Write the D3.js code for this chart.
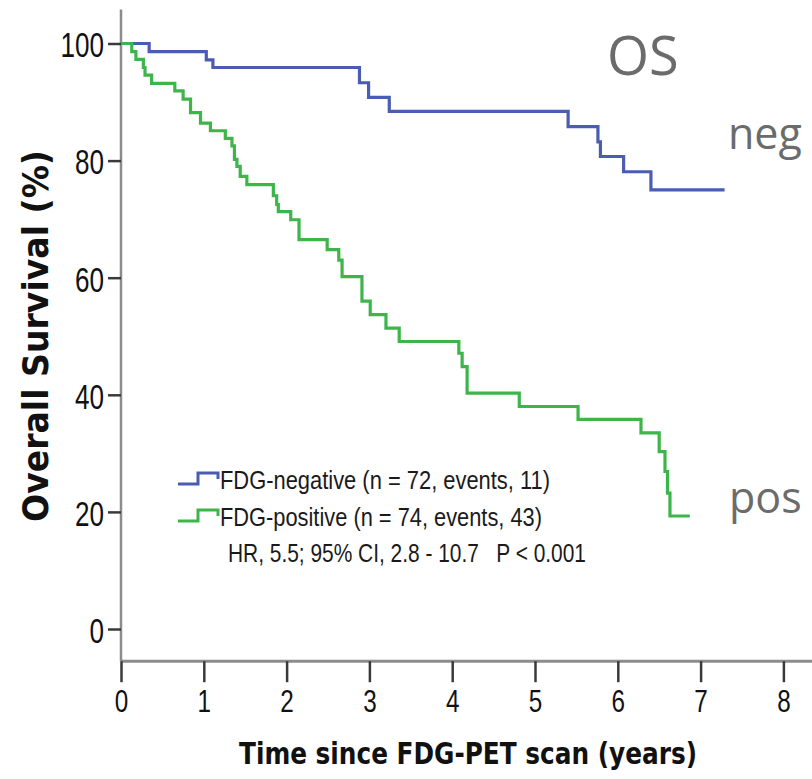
<!DOCTYPE html>
<html>
<head>
<meta charset="utf-8">
<script src="https://cdn.jsdelivr.net/npm/d3@7"></script>
<style>
  body { margin: 0; background: #fff; }
  svg { display: block; }
</style>
</head>
<body>
<script>
// FDG-negative survival steps (time in years, survival %)
const negTime = [0, 0.34, 1.03, 1.11, 2.88, 2.99, 3.24, 5.40, 5.76, 5.79, 6.07, 6.40, 7.29];
const negSurv = [100, 98.6, 97.2, 95.9, 93.3, 90.8, 88.4, 85.8, 83.2, 80.7, 78.1, 75.0, 75.0];

// FDG-positive survival steps
const posTime = [0, 0.13, 0.18, 0.27, 0.29, 0.37, 0.65, 0.75, 0.84, 0.96, 1.08, 1.26, 1.34, 1.37, 1.40, 1.44, 1.52,
                 1.84, 1.88, 1.90, 2.05, 2.15, 2.49, 2.63, 2.67, 2.91, 3.01, 3.20, 3.36, 4.08, 4.12, 4.18, 4.81,
                 5.52, 6.28, 6.50, 6.57, 6.60, 6.63, 6.87];
const posSurv = [100, 98.6, 97.3, 95.9, 94.6, 93.2, 91.9, 90.5, 88.2, 86.4, 85.1, 83.8, 82.5, 80.2, 79.0, 77.3, 75.9,
                 74.0, 72.5, 71.3, 69.9, 66.5, 64.8, 63.0, 60.2, 56.0, 53.7, 51.4, 49.1, 47.1, 44.8, 40.3, 38.0,
                 35.8, 33.5, 30.3, 26.9, 23.2, 19.3, 19.3];

const xTicks = [0, 1, 2, 3, 4, 5, 6, 7, 8];
const yTicks = [0, 20, 40, 60, 80, 100];

const legendLabels = ["FDG-negative (n = 72, events, 11)", "FDG-positive (n = 74, events, 43)"];
const statsLabel = "HR, 5.5; 95% CI, 2.8 - 10.7   P < 0.001";

const w = 812;
const h = 779;
const blue = "#4a5db2";
const green = "#3cb64b";
const narrow = "'Liberation Sans', Arial, sans-serif";

const svg = d3.select("body")
              .append("svg")
              .attr("width", w)
              .attr("height", h);

const x = d3.scaleLinear().domain([0, 8]).range([121, 783.4]);
const y = d3.scaleLinear().domain([0, 100]).range([629, 43.5]);

// axis lines
svg.append("line")
   .attr("x1", x(0)).attr("x2", x(0))
   .attr("y1", y(105.8)).attr("y2", y(-5.5))
   .attr("stroke", "#8c8c8c").attr("stroke-width", 2.5);

svg.append("line")
   .attr("x1", x(0)).attr("x2", w)
   .attr("y1", y(-5.5)).attr("y2", y(-5.5))
   .attr("stroke", "#8c8c8c").attr("stroke-width", 3);

// y axis
const yAxis = svg.append("g")
   .attr("transform", `translate(${x(0)},0)`)
   .call(d3.axisLeft(y).tickValues(yTicks).tickSize(13).tickPadding(4));
yAxis.select(".domain").remove();
yAxis.selectAll(".tick line").attr("stroke", "#3a3a3a").attr("stroke-width", 2.5);
yAxis.selectAll(".tick text")
   .attr("font-family", narrow)
   .attr("font-size", 35)
   .attr("fill", "#111")
   .attr("dy", "0.38em")
   .attr("textLength", (d) => String(d).length * 14.5)
   .attr("lengthAdjust", "spacingAndGlyphs");

// x axis
const xAxis = svg.append("g")
   .attr("transform", `translate(0,${y(-5.5)})`)
   .call(d3.axisBottom(x).tickValues(xTicks).tickSize(21).tickPadding(8));
xAxis.select(".domain").remove();
xAxis.selectAll(".tick line").attr("stroke", "#3a3a3a").attr("stroke-width", 2.5);
xAxis.selectAll(".tick text")
   .attr("font-family", narrow)
   .attr("font-size", 31)
   .attr("fill", "#111")
   .attr("textLength", 13.5)
   .attr("lengthAdjust", "spacingAndGlyphs");

// axis titles
svg.append("text")
   .attr("x", 468).attr("y", 764)
   .attr("text-anchor", "middle")
   .attr("font-family", "'DejaVu Sans Condensed', 'DejaVu Sans', sans-serif")
   .attr("font-weight", "bold")
   .attr("font-size", 30)
   .attr("textLength", 458)
   .attr("lengthAdjust", "spacingAndGlyphs")
   .attr("fill", "#111")
   .text("Time since FDG-PET scan (years)");

svg.append("text")
   .attr("transform", "translate(48,336) rotate(-90)")
   .attr("text-anchor", "middle")
   .attr("font-family", "'DejaVu Sans Condensed', 'DejaVu Sans', sans-serif")
   .attr("font-weight", "bold")
   .attr("font-size", 36)
   .attr("textLength", 372)
   .attr("lengthAdjust", "spacingAndGlyphs")
   .attr("fill", "#111")
   .text("Overall Survival (%)");

// survival curves
const line = d3.line()
   .x((d) => x(d[0]))
   .y((d) => y(d[1]))
   .curve(d3.curveStepAfter);

const curves = [
  { pts: d3.zip(negTime, negSurv), color: blue },
  { pts: d3.zip(posTime, posSurv), color: green }
];

svg.selectAll("path.km")
   .data(curves)
   .enter()
   .append("path")
   .attr("class", "km")
   .attr("d", (d) => line(d.pts))
   .attr("fill", "none")
   .attr("stroke", (d) => d.color)
   .attr("stroke-width", 3.2);

// legend
const legend = svg.append("g").attr("transform", "translate(178,484)");
const glyph = (dy) => `M0,${dy} H20 V${dy - 11} H40 V${dy - 5}`;

legend.selectAll("path")
   .data(curves)
   .enter()
   .append("path")
   .attr("d", (d, i) => glyph(i * 37))
   .attr("fill", "none")
   .attr("stroke", (d) => d.color)
   .attr("stroke-width", 3);

legend.selectAll("text.lab")
   .data(legendLabels)
   .enter()
   .append("text")
   .attr("class", "lab")
   .attr("x", 42)
   .attr("y", (d, i) => i * 37 + 5)
   .attr("font-family", narrow)
   .attr("font-size", 26.5)
   .attr("fill", "#1a1a1a")
   .attr("textLength", (d, i) => i === 0 ? 330 : 322)
   .attr("lengthAdjust", "spacingAndGlyphs")
   .text((d) => d);

legend.append("text")
   .attr("x", 50)
   .attr("y", 78)
   .attr("font-family", narrow)
   .attr("font-size", 26.5)
   .attr("fill", "#1a1a1a")
   .attr("xml:space", "preserve")
   .style("white-space", "pre")
   .attr("textLength", 358)
   .attr("lengthAdjust", "spacingAndGlyphs")
   .text(statsLabel);

// annotations
const note = (txt, xp, yp, size) => svg.append("text")
   .attr("x", xp).attr("y", yp)
   .attr("font-family", "'Open Sans', 'Noto Sans', sans-serif")
   .attr("font-size", size)
   .attr("fill", "#6b6b6b")
   .text(txt);

note("OS", 607, 75, 54);
note("neg", 728, 149, 43);
note("pos", 729, 513, 43);
</script>
</body>
</html>
